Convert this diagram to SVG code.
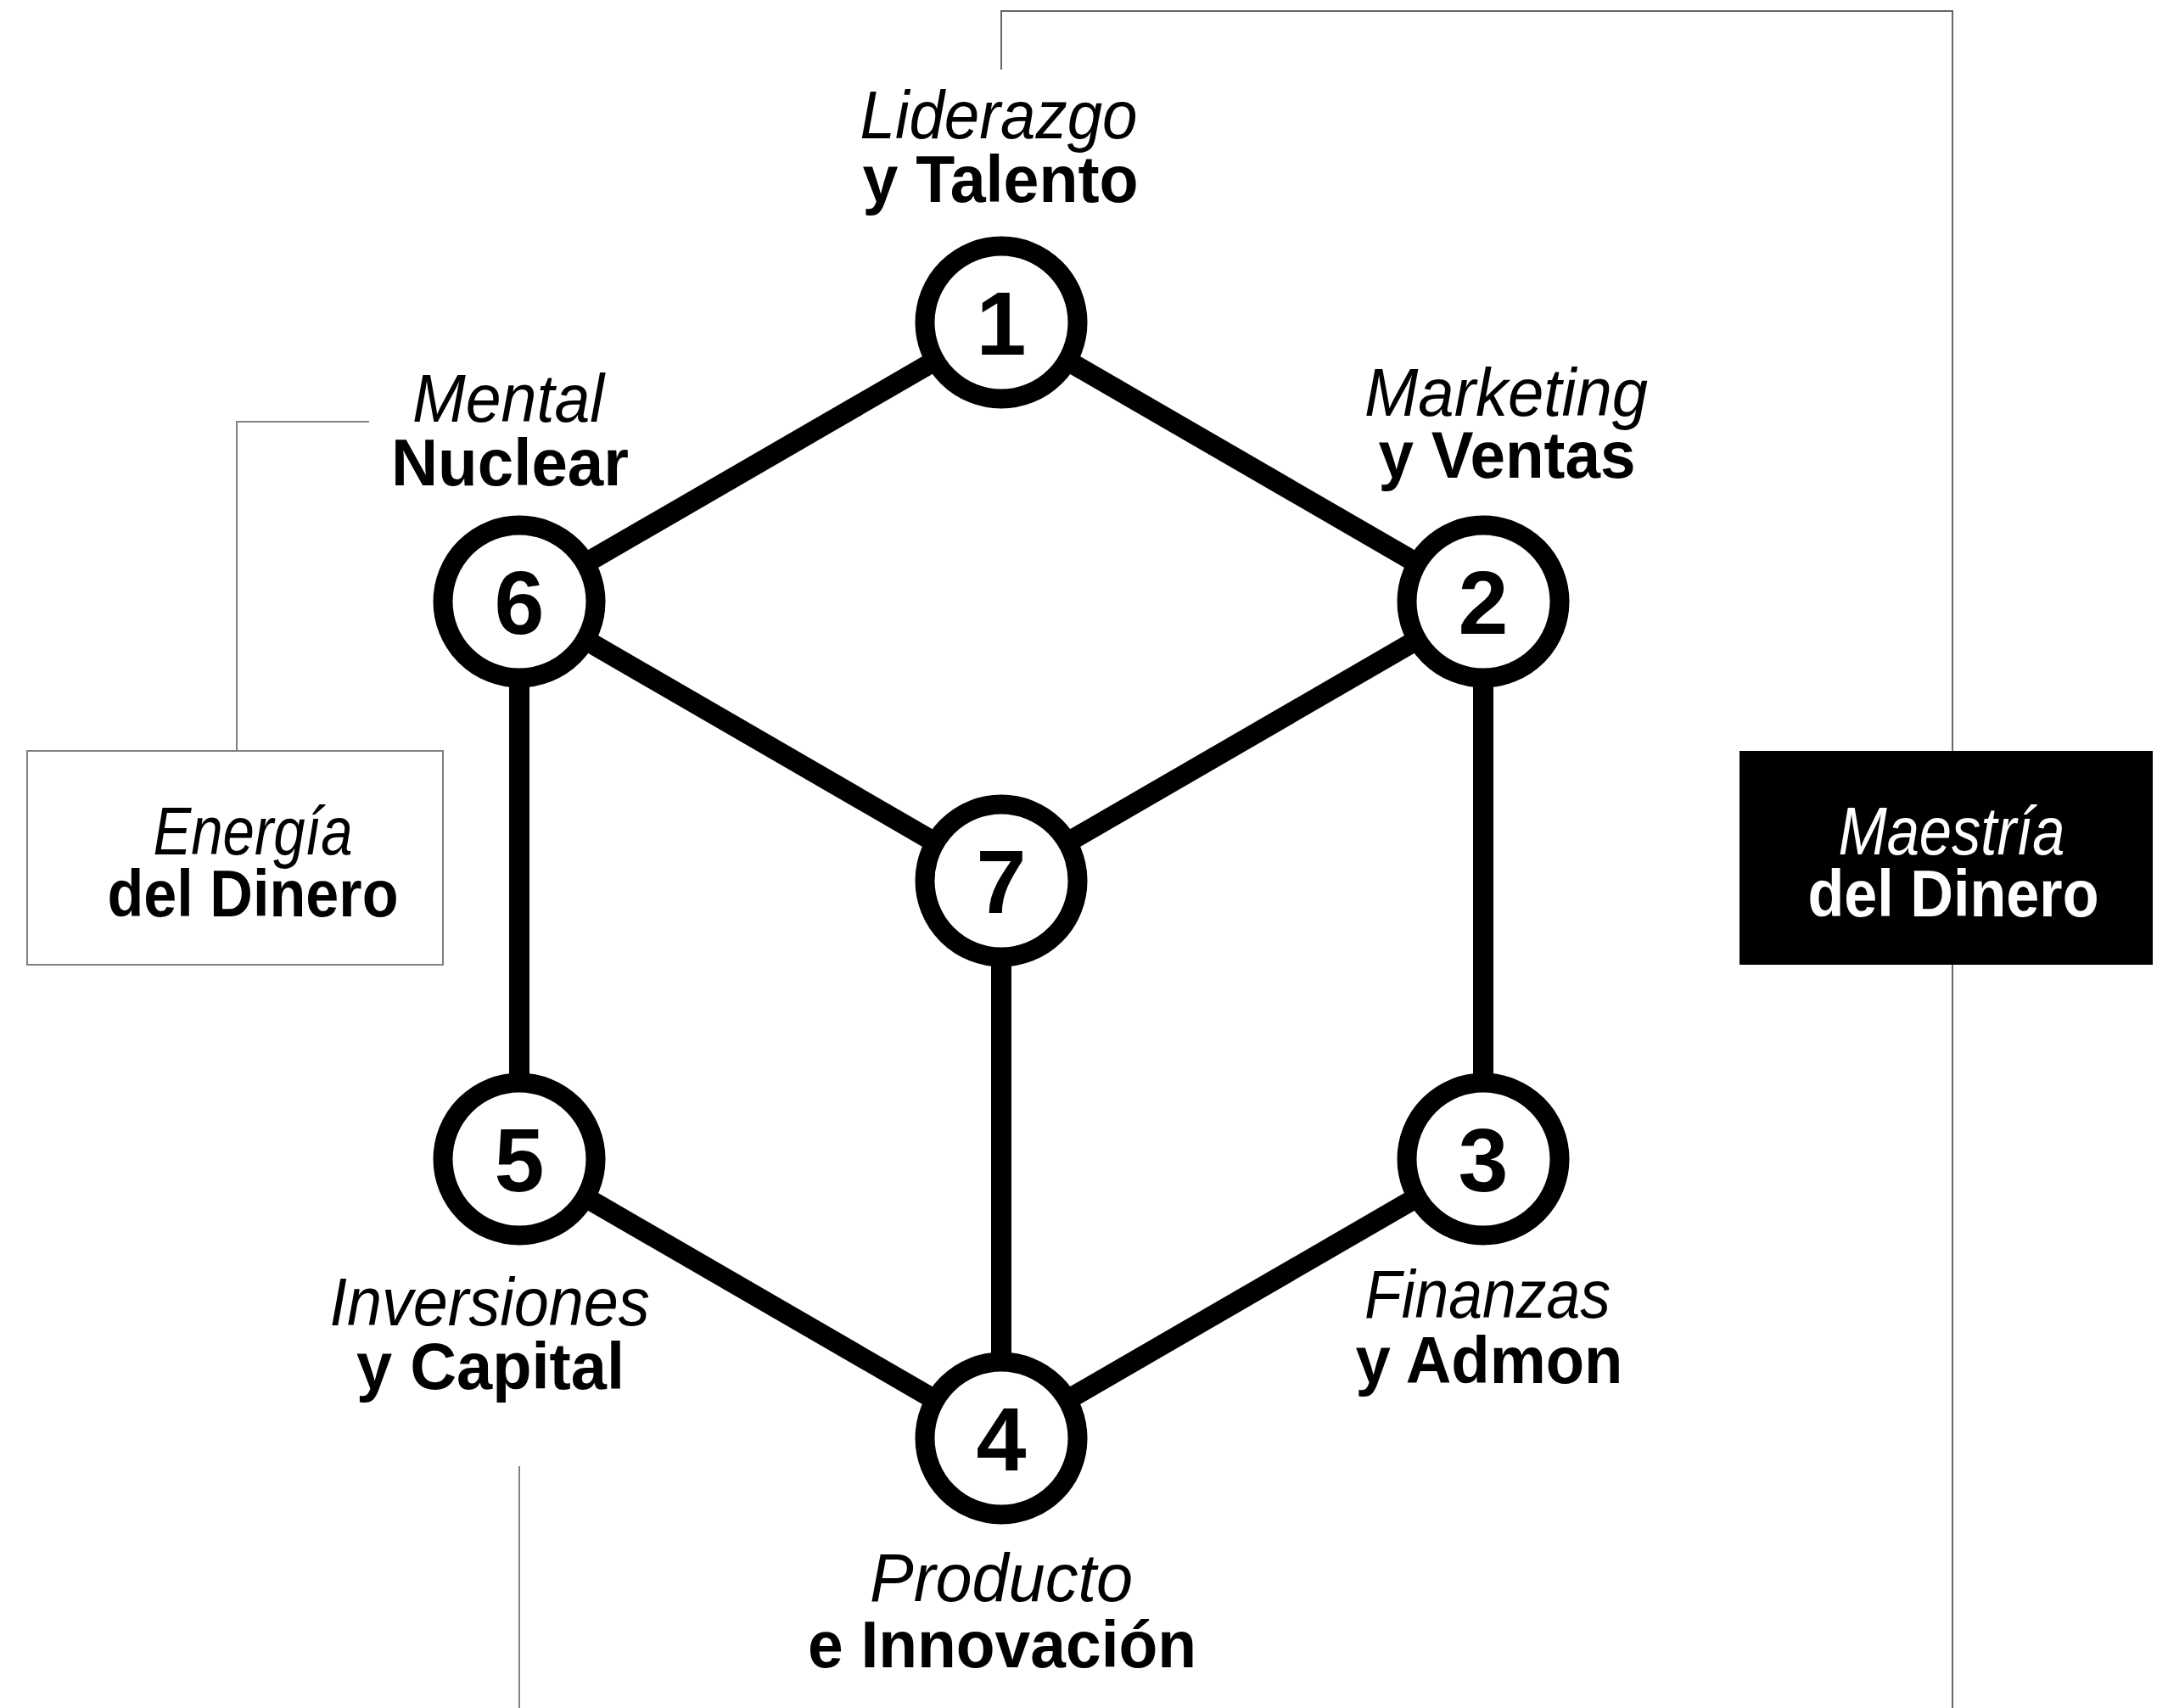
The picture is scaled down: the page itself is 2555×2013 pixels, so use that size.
<svg xmlns="http://www.w3.org/2000/svg" width="2555" height="2013" viewBox="0 0 2555 2013">
<style>
.edge{stroke:#000;stroke-width:24;stroke-linecap:butt;fill:none}
.ring{fill:#fff;stroke:#000;stroke-width:23}
.num{font-family:"Liberation Sans",Arial,sans-serif;font-weight:bold;font-size:106px;text-anchor:middle;fill:#000}
.it{font-family:"Liberation Sans",Arial,sans-serif;font-style:italic;font-size:80px;text-anchor:middle;fill:#000}
.bd{font-family:"Liberation Sans",Arial,sans-serif;font-weight:bold;font-size:78px;text-anchor:middle;fill:#000}
.thin{stroke:#808080;stroke-width:2;fill:none}
.w{fill:#fff}
</style>
<rect width="2555" height="2013" fill="#fff"/>
<g id="guides">
<polyline class="thin" points="1180,82 1180,13 2301,13 2301,885" style="stroke:#666"/>
<line class="thin" x1="2301" y1="1137" x2="2301" y2="2013" style="stroke:#666"/>
<polyline class="thin" points="435,497 279,497 279,885"/>
<line class="thin" x1="612" y1="1728" x2="612" y2="2013"/>
</g>
<g id="connectors">
<line class="edge" x1="1180" y1="380" x2="1748" y2="709"/>
<line class="edge" x1="1180" y1="380" x2="612" y2="709"/>
<line class="edge" x1="612" y1="709" x2="1180" y2="1038"/>
<line class="edge" x1="1748" y1="709" x2="1180" y2="1038"/>
<line class="edge" x1="612" y1="709" x2="612" y2="1366"/>
<line class="edge" x1="1748" y1="709" x2="1748" y2="1366"/>
<line class="edge" x1="1180" y1="1038" x2="1180" y2="1695"/>
<line class="edge" x1="612" y1="1366" x2="1180" y2="1695"/>
<line class="edge" x1="1748" y1="1366" x2="1180" y2="1695"/>
</g>
<g id="node1">
<circle class="ring" cx="1180" cy="380" r="90"/>
<text class="num" x="1180" y="418">1</text>
<text class="it" x="1177" y="163" textLength="327" lengthAdjust="spacingAndGlyphs">Liderazgo</text>
<text class="bd" x="1179" y="238" textLength="325" lengthAdjust="spacingAndGlyphs">y Talento</text>
</g>
<g id="node2">
<circle class="ring" cx="1748" cy="709" r="90"/>
<text class="num" x="1748" y="747">2</text>
<text class="it" x="1775" y="490" textLength="334" lengthAdjust="spacingAndGlyphs">Marketing</text>
<text class="bd" x="1776" y="563" textLength="303" lengthAdjust="spacingAndGlyphs">y Ventas</text>
</g>
<g id="node3">
<circle class="ring" cx="1748" cy="1366" r="90"/>
<text class="num" x="1748" y="1404">3</text>
<text class="it" x="1753" y="1553" textLength="290" lengthAdjust="spacingAndGlyphs">Finanzas</text>
<text class="bd" x="1755" y="1630" textLength="315" lengthAdjust="spacingAndGlyphs">y Admon</text>
</g>
<g id="node4">
<circle class="ring" cx="1180" cy="1695" r="90"/>
<text class="num" x="1180" y="1733">4</text>
<text class="it" x="1180" y="1887" textLength="310" lengthAdjust="spacingAndGlyphs">Producto</text>
<text class="bd" x="1181" y="1965" textLength="458" lengthAdjust="spacingAndGlyphs">e Innovación</text>
</g>
<g id="node5">
<circle class="ring" cx="612" cy="1366" r="90"/>
<text class="num" x="612" y="1404">5</text>
<text class="it" x="577" y="1562" textLength="377" lengthAdjust="spacingAndGlyphs">Inversiones</text>
<text class="bd" x="578" y="1637" textLength="316" lengthAdjust="spacingAndGlyphs">y Capital</text>
</g>
<g id="node6">
<circle class="ring" cx="612" cy="709" r="90"/>
<text class="num" x="612" y="747">6</text>
<text class="it" x="599" y="497" textLength="226" lengthAdjust="spacingAndGlyphs">Mental</text>
<text class="bd" x="601" y="572" textLength="280" lengthAdjust="spacingAndGlyphs">Nuclear</text>
</g>
<g id="node7">
<circle class="ring" cx="1180" cy="1038" r="90"/>
<text class="num" x="1180" y="1076">7</text>
</g>
<g id="energia">
<rect x="32" y="885" width="490" height="252" fill="#fff" stroke="#808080" stroke-width="2"/>
<text class="it" x="298" y="1007" textLength="235" lengthAdjust="spacingAndGlyphs">Energía</text>
<text class="bd" x="298" y="1080" textLength="343" lengthAdjust="spacingAndGlyphs">del Dinero</text>
</g>
<g id="maestria">
<rect x="2050" y="885" width="487" height="252" fill="#000"/>
<text class="it w" x="2300" y="1007" textLength="267" lengthAdjust="spacingAndGlyphs">Maestría</text>
<text class="bd w" x="2302" y="1080" textLength="343" lengthAdjust="spacingAndGlyphs">del Dinero</text>
</g>
</svg>
